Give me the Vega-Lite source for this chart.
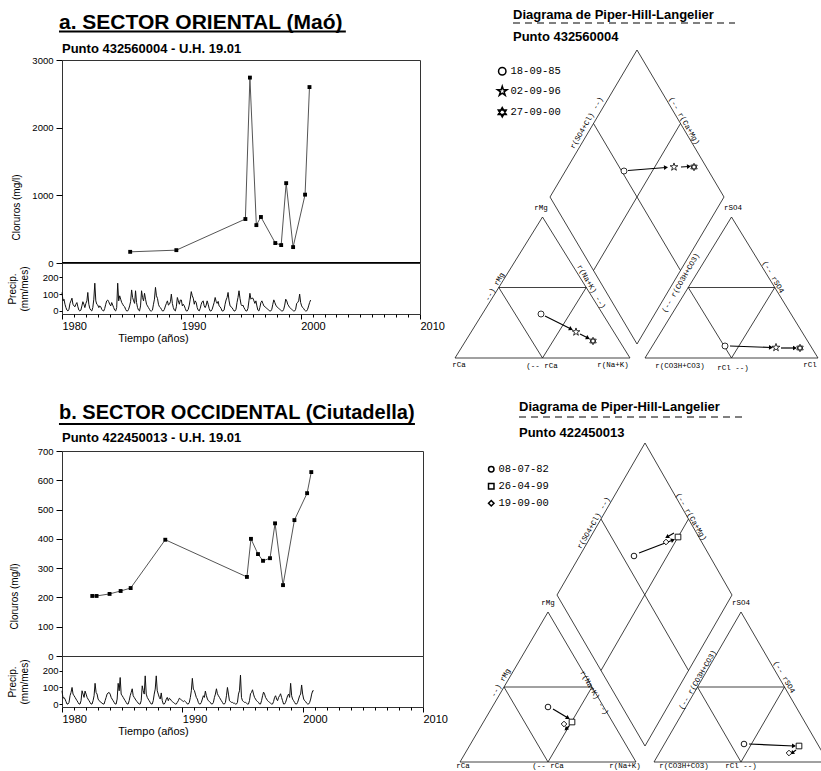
{
  "$schema": "https://vega.github.io/schema/vega-lite/v6.json",
  "background": "white",
  "padding": {"left": 6, "top": 8, "right": 0, "bottom": 0},
  "spacing": 25,
  "resolve": {"scale": {"shape": "independent"}, "legend": {"shape": "independent"}},
  "config": {
    "view": {"stroke": "#333", "strokeWidth": 1},
    "font": "Liberation Sans",
    "axis": {"labelFont": "Liberation Sans", "titleFont": "Liberation Sans", "labelFontSize": 9.5, "titleFontSize": 10, "titleFontWeight": "normal", "grid": false, "labelColor": "#000", "titleColor": "#000", "tickColor": "#000", "domainColor": "#000"},
    "text": {"font": "Liberation Sans", "color": "#000"}
  },
  "datasets": {
    "clA": [
      {"d": "1985-09-18", "v": 165}, {"d": "1989-08-01", "v": 190}, {"d": "1995-05-15", "v": 650}, {"d": "1995-10-01", "v": 2740},
      {"d": "1996-04-15", "v": 560}, {"d": "1996-09-02", "v": 680}, {"d": "1997-11-15", "v": 295}, {"d": "1998-05-15", "v": 265},
      {"d": "1998-10-15", "v": 1180}, {"d": "1999-05-15", "v": 235}, {"d": "2000-05-15", "v": 1010}, {"d": "2000-09-27", "v": 2600}
    ],
    "clB": [
      {"d": "1982-07-08", "v": 205}, {"d": "1982-11-15", "v": 205}, {"d": "1983-12-15", "v": 212}, {"d": "1984-11-15", "v": 222},
      {"d": "1985-09-15", "v": 232}, {"d": "1988-08-01", "v": 397}, {"d": "1995-05-15", "v": 270}, {"d": "1995-09-15", "v": 400},
      {"d": "1996-04-15", "v": 348}, {"d": "1996-09-15", "v": 325}, {"d": "1997-04-15", "v": 334}, {"d": "1997-09-15", "v": 453},
      {"d": "1998-05-15", "v": 242}, {"d": "1999-04-26", "v": 464}, {"d": "2000-05-15", "v": 556}, {"d": "2000-09-19", "v": 628}
    ],
    "prA": [
      {"d":"1980-01","p":110},{"d":"1980-02","p":60},{"d":"1980-03","p":70},{"d":"1980-04","p":40},{"d":"1980-05","p":20},{"d":"1980-06","p":5},{"d":"1980-07","p":0},{"d":"1980-08","p":10},{"d":"1980-09","p":45},{"d":"1980-10","p":60},{"d":"1980-11","p":76},{"d":"1980-12","p":40},
      {"d":"1981-01","p":30},{"d":"1981-02","p":25},{"d":"1981-03","p":40},{"d":"1981-04","p":50},{"d":"1981-05","p":25},{"d":"1981-06","p":5},{"d":"1981-07","p":0},{"d":"1981-08","p":5},{"d":"1981-09","p":30},{"d":"1981-10","p":55},{"d":"1981-11","p":40},{"d":"1981-12","p":20},
      {"d":"1982-01","p":45},{"d":"1982-02","p":60},{"d":"1982-03","p":110},{"d":"1982-04","p":40},{"d":"1982-05","p":15},{"d":"1982-06","p":5},{"d":"1982-07","p":0},{"d":"1982-08","p":20},{"d":"1982-09","p":70},{"d":"1982-10","p":165},{"d":"1982-11","p":60},{"d":"1982-12","p":40},
      {"d":"1983-01","p":35},{"d":"1983-02","p":20},{"d":"1983-03","p":30},{"d":"1983-04","p":25},{"d":"1983-05","p":10},{"d":"1983-06","p":2},{"d":"1983-07","p":0},{"d":"1983-08","p":15},{"d":"1983-09","p":40},{"d":"1983-10","p":60},{"d":"1983-11","p":65},{"d":"1983-12","p":55},
      {"d":"1984-01","p":40},{"d":"1984-02","p":30},{"d":"1984-03","p":50},{"d":"1984-04","p":35},{"d":"1984-05","p":20},{"d":"1984-06","p":5},{"d":"1984-07","p":0},{"d":"1984-08","p":20},{"d":"1984-09","p":165},{"d":"1984-10","p":60},{"d":"1984-11","p":90},{"d":"1984-12","p":70},
      {"d":"1985-01","p":50},{"d":"1985-02","p":40},{"d":"1985-03","p":30},{"d":"1985-04","p":25},{"d":"1985-05","p":10},{"d":"1985-06","p":0},{"d":"1985-07","p":0},{"d":"1985-08","p":10},{"d":"1985-09","p":30},{"d":"1985-10","p":55},{"d":"1985-11","p":125},{"d":"1985-12","p":80},
      {"d":"1986-01","p":60},{"d":"1986-02","p":45},{"d":"1986-03","p":120},{"d":"1986-04","p":50},{"d":"1986-05","p":20},{"d":"1986-06","p":5},{"d":"1986-07","p":0},{"d":"1986-08","p":30},{"d":"1986-09","p":120},{"d":"1986-10","p":80},{"d":"1986-11","p":60},{"d":"1986-12","p":105},
      {"d":"1987-01","p":70},{"d":"1987-02","p":40},{"d":"1987-03","p":30},{"d":"1987-04","p":20},{"d":"1987-05","p":10},{"d":"1987-06","p":0},{"d":"1987-07","p":0},{"d":"1987-08","p":5},{"d":"1987-09","p":40},{"d":"1987-10","p":70},{"d":"1987-11","p":140},{"d":"1987-12","p":90},
      {"d":"1988-01","p":75},{"d":"1988-02","p":40},{"d":"1988-03","p":25},{"d":"1988-04","p":20},{"d":"1988-05","p":10},{"d":"1988-06","p":0},{"d":"1988-07","p":0},{"d":"1988-08","p":10},{"d":"1988-09","p":30},{"d":"1988-10","p":45},{"d":"1988-11","p":60},{"d":"1988-12","p":35},
      {"d":"1989-01","p":40},{"d":"1989-02","p":55},{"d":"1989-03","p":100},{"d":"1989-04","p":45},{"d":"1989-05","p":20},{"d":"1989-06","p":5},{"d":"1989-07","p":0},{"d":"1989-08","p":25},{"d":"1989-09","p":80},{"d":"1989-10","p":60},{"d":"1989-11","p":40},{"d":"1989-12","p":65},
      {"d":"1990-01","p":65},{"d":"1990-02","p":30},{"d":"1990-03","p":40},{"d":"1990-04","p":30},{"d":"1990-05","p":15},{"d":"1990-06","p":0},{"d":"1990-07","p":0},{"d":"1990-08","p":10},{"d":"1990-09","p":35},{"d":"1990-10","p":70},{"d":"1990-11","p":115},{"d":"1990-12","p":90},
      {"d":"1991-01","p":76},{"d":"1991-02","p":40},{"d":"1991-03","p":60},{"d":"1991-04","p":50},{"d":"1991-05","p":20},{"d":"1991-06","p":5},{"d":"1991-07","p":0},{"d":"1991-08","p":15},{"d":"1991-09","p":40},{"d":"1991-10","p":55},{"d":"1991-11","p":60},{"d":"1991-12","p":30},
      {"d":"1992-01","p":20},{"d":"1992-02","p":35},{"d":"1992-03","p":60},{"d":"1992-04","p":40},{"d":"1992-05","p":15},{"d":"1992-06","p":0},{"d":"1992-07","p":0},{"d":"1992-08","p":10},{"d":"1992-09","p":30},{"d":"1992-10","p":50},{"d":"1992-11","p":80},{"d":"1992-12","p":57},
      {"d":"1993-01","p":45},{"d":"1993-02","p":57},{"d":"1993-03","p":30},{"d":"1993-04","p":25},{"d":"1993-05","p":15},{"d":"1993-06","p":0},{"d":"1993-07","p":0},{"d":"1993-08","p":5},{"d":"1993-09","p":40},{"d":"1993-10","p":65},{"d":"1993-11","p":80},{"d":"1993-12","p":110},
      {"d":"1994-01","p":60},{"d":"1994-02","p":30},{"d":"1994-03","p":25},{"d":"1994-04","p":20},{"d":"1994-05","p":10},{"d":"1994-06","p":0},{"d":"1994-07","p":0},{"d":"1994-08","p":10},{"d":"1994-09","p":50},{"d":"1994-10","p":80},{"d":"1994-11","p":120},{"d":"1994-12","p":75},
      {"d":"1995-01","p":40},{"d":"1995-02","p":30},{"d":"1995-03","p":35},{"d":"1995-04","p":20},{"d":"1995-05","p":10},{"d":"1995-06","p":0},{"d":"1995-07","p":0},{"d":"1995-08","p":15},{"d":"1995-09","p":60},{"d":"1995-10","p":105},{"d":"1995-11","p":70},{"d":"1995-12","p":76},
      {"d":"1996-01","p":76},{"d":"1996-02","p":60},{"d":"1996-03","p":45},{"d":"1996-04","p":60},{"d":"1996-05","p":30},{"d":"1996-06","p":5},{"d":"1996-07","p":0},{"d":"1996-08","p":20},{"d":"1996-09","p":50},{"d":"1996-10","p":60},{"d":"1996-11","p":45},{"d":"1996-12","p":30},
      {"d":"1997-01","p":25},{"d":"1997-02","p":20},{"d":"1997-03","p":15},{"d":"1997-04","p":10},{"d":"1997-05","p":5},{"d":"1997-06","p":0},{"d":"1997-07","p":0},{"d":"1997-08","p":10},{"d":"1997-09","p":40},{"d":"1997-10","p":66},{"d":"1997-11","p":50},{"d":"1997-12","p":35},
      {"d":"1998-01","p":25},{"d":"1998-02","p":20},{"d":"1998-03","p":15},{"d":"1998-04","p":10},{"d":"1998-05","p":5},{"d":"1998-06","p":0},{"d":"1998-07","p":0},{"d":"1998-08","p":10},{"d":"1998-09","p":35},{"d":"1998-10","p":70},{"d":"1998-11","p":60},{"d":"1998-12","p":40},
      {"d":"1999-01","p":30},{"d":"1999-02","p":20},{"d":"1999-03","p":15},{"d":"1999-04","p":10},{"d":"1999-05","p":5},{"d":"1999-06","p":0},{"d":"1999-07","p":0},{"d":"1999-08","p":10},{"d":"1999-09","p":45},{"d":"1999-10","p":50},{"d":"1999-11","p":60},{"d":"1999-12","p":100},
      {"d":"2000-01","p":50},{"d":"2000-02","p":30},{"d":"2000-03","p":20},{"d":"2000-04","p":15},{"d":"2000-05","p":5},{"d":"2000-06","p":0},{"d":"2000-07","p":0},{"d":"2000-08","p":10},{"d":"2000-09","p":30},{"d":"2000-10","p":50},{"d":"2000-11","p":65}
    ],
    "prB": [
      {"d":"1980-01","p":80},{"d":"1980-02","p":35},{"d":"1980-03","p":40},{"d":"1980-04","p":30},{"d":"1980-05","p":15},{"d":"1980-06","p":0},{"d":"1980-07","p":0},{"d":"1980-08","p":10},{"d":"1980-09","p":50},{"d":"1980-10","p":70},{"d":"1980-11","p":100},{"d":"1980-12","p":60},
      {"d":"1981-01","p":50},{"d":"1981-02","p":40},{"d":"1981-03","p":30},{"d":"1981-04","p":20},{"d":"1981-05","p":10},{"d":"1981-06","p":0},{"d":"1981-07","p":0},{"d":"1981-08","p":20},{"d":"1981-09","p":80},{"d":"1981-10","p":60},{"d":"1981-11","p":40},{"d":"1981-12","p":78},
      {"d":"1982-01","p":60},{"d":"1982-02","p":40},{"d":"1982-03","p":30},{"d":"1982-04","p":20},{"d":"1982-05","p":10},{"d":"1982-06","p":0},{"d":"1982-07","p":0},{"d":"1982-08","p":20},{"d":"1982-09","p":50},{"d":"1982-10","p":125},{"d":"1982-11","p":70},{"d":"1982-12","p":60},
      {"d":"1983-01","p":30},{"d":"1983-02","p":20},{"d":"1983-03","p":15},{"d":"1983-04","p":10},{"d":"1983-05","p":5},{"d":"1983-06","p":0},{"d":"1983-07","p":0},{"d":"1983-08","p":20},{"d":"1983-09","p":40},{"d":"1983-10","p":60},{"d":"1983-11","p":67},{"d":"1983-12","p":70},
      {"d":"1984-01","p":60},{"d":"1984-02","p":40},{"d":"1984-03","p":30},{"d":"1984-04","p":20},{"d":"1984-05","p":10},{"d":"1984-06","p":0},{"d":"1984-07","p":0},{"d":"1984-08","p":30},{"d":"1984-09","p":125},{"d":"1984-10","p":80},{"d":"1984-11","p":160},{"d":"1984-12","p":60},
      {"d":"1985-01","p":50},{"d":"1985-02","p":40},{"d":"1985-03","p":30},{"d":"1985-04","p":20},{"d":"1985-05","p":10},{"d":"1985-06","p":0},{"d":"1985-07","p":0},{"d":"1985-08","p":20},{"d":"1985-09","p":50},{"d":"1985-10","p":70},{"d":"1985-11","p":92},{"d":"1985-12","p":50},
      {"d":"1986-01","p":40},{"d":"1986-02","p":30},{"d":"1986-03","p":20},{"d":"1986-04","p":15},{"d":"1986-05","p":5},{"d":"1986-06","p":0},{"d":"1986-07","p":0},{"d":"1986-08","p":20},{"d":"1986-09","p":110},{"d":"1986-10","p":80},{"d":"1986-11","p":60},{"d":"1986-12","p":170},
      {"d":"1987-01","p":60},{"d":"1987-02","p":40},{"d":"1987-03","p":30},{"d":"1987-04","p":20},{"d":"1987-05","p":10},{"d":"1987-06","p":0},{"d":"1987-07","p":0},{"d":"1987-08","p":20},{"d":"1987-09","p":60},{"d":"1987-10","p":90},{"d":"1987-11","p":170},{"d":"1987-12","p":80},
      {"d":"1988-01","p":60},{"d":"1988-02","p":40},{"d":"1988-03","p":30},{"d":"1988-04","p":67},{"d":"1988-05","p":20},{"d":"1988-06","p":0},{"d":"1988-07","p":0},{"d":"1988-08","p":10},{"d":"1988-09","p":30},{"d":"1988-10","p":40},{"d":"1988-11","p":20},{"d":"1988-12","p":35},
      {"d":"1989-01","p":30},{"d":"1989-02","p":20},{"d":"1989-03","p":15},{"d":"1989-04","p":10},{"d":"1989-05","p":5},{"d":"1989-06","p":0},{"d":"1989-07","p":0},{"d":"1989-08","p":10},{"d":"1989-09","p":20},{"d":"1989-10","p":35},{"d":"1989-11","p":30},{"d":"1989-12","p":25},
      {"d":"1990-01","p":20},{"d":"1990-02","p":15},{"d":"1990-03","p":20},{"d":"1990-04","p":15},{"d":"1990-05","p":10},{"d":"1990-06","p":0},{"d":"1990-07","p":0},{"d":"1990-08","p":10},{"d":"1990-09","p":40},{"d":"1990-10","p":80},{"d":"1990-11","p":155},{"d":"1990-12","p":90},
      {"d":"1991-01","p":82},{"d":"1991-02","p":60},{"d":"1991-03","p":40},{"d":"1991-04","p":30},{"d":"1991-05","p":10},{"d":"1991-06","p":0},{"d":"1991-07","p":0},{"d":"1991-08","p":10},{"d":"1991-09","p":30},{"d":"1991-10","p":50},{"d":"1991-11","p":40},{"d":"1991-12","p":78},
      {"d":"1992-01","p":50},{"d":"1992-02","p":30},{"d":"1992-03","p":20},{"d":"1992-04","p":15},{"d":"1992-05","p":10},{"d":"1992-06","p":0},{"d":"1992-07","p":0},{"d":"1992-08","p":10},{"d":"1992-09","p":40},{"d":"1992-10","p":60},{"d":"1992-11","p":92},{"d":"1992-12","p":62},
      {"d":"1993-01","p":50},{"d":"1993-02","p":40},{"d":"1993-03","p":30},{"d":"1993-04","p":20},{"d":"1993-05","p":10},{"d":"1993-06","p":0},{"d":"1993-07","p":0},{"d":"1993-08","p":10},{"d":"1993-09","p":50},{"d":"1993-10","p":100},{"d":"1993-11","p":60},{"d":"1993-12","p":20},
      {"d":"1994-01","p":15},{"d":"1994-02","p":10},{"d":"1994-03","p":10},{"d":"1994-04","p":5},{"d":"1994-05","p":5},{"d":"1994-06","p":0},{"d":"1994-07","p":0},{"d":"1994-08","p":10},{"d":"1994-09","p":60},{"d":"1994-10","p":80},{"d":"1994-11","p":175},{"d":"1994-12","p":40},
      {"d":"1995-01","p":20},{"d":"1995-02","p":15},{"d":"1995-03","p":10},{"d":"1995-04","p":10},{"d":"1995-05","p":5},{"d":"1995-06","p":0},{"d":"1995-07","p":0},{"d":"1995-08","p":20},{"d":"1995-09","p":62},{"d":"1995-10","p":70},{"d":"1995-11","p":86},{"d":"1995-12","p":60},
      {"d":"1996-01","p":40},{"d":"1996-02","p":30},{"d":"1996-03","p":20},{"d":"1996-04","p":15},{"d":"1996-05","p":10},{"d":"1996-06","p":0},{"d":"1996-07","p":0},{"d":"1996-08","p":20},{"d":"1996-09","p":50},{"d":"1996-10","p":72},{"d":"1996-11","p":60},{"d":"1996-12","p":40},
      {"d":"1997-01","p":30},{"d":"1997-02","p":20},{"d":"1997-03","p":15},{"d":"1997-04","p":10},{"d":"1997-05","p":5},{"d":"1997-06","p":0},{"d":"1997-07","p":0},{"d":"1997-08","p":15},{"d":"1997-09","p":40},{"d":"1997-10","p":50},{"d":"1997-11","p":30},{"d":"1997-12","p":20},
      {"d":"1998-01","p":40},{"d":"1998-02","p":50},{"d":"1998-03","p":62},{"d":"1998-04","p":40},{"d":"1998-05","p":20},{"d":"1998-06","p":0},{"d":"1998-07","p":0},{"d":"1998-08","p":10},{"d":"1998-09","p":30},{"d":"1998-10","p":50},{"d":"1998-11","p":60},{"d":"1998-12","p":40},
      {"d":"1999-01","p":125},{"d":"1999-02","p":50},{"d":"1999-03","p":30},{"d":"1999-04","p":20},{"d":"1999-05","p":10},{"d":"1999-06","p":0},{"d":"1999-07","p":0},{"d":"1999-08","p":10},{"d":"1999-09","p":30},{"d":"1999-10","p":50},{"d":"1999-11","p":60},{"d":"1999-12","p":115},
      {"d":"2000-01","p":60},{"d":"2000-02","p":30},{"d":"2000-03","p":20},{"d":"2000-04","p":15},{"d":"2000-05","p":5},{"d":"2000-06","p":0},{"d":"2000-07","p":0},{"d":"2000-08","p":10},{"d":"2000-09","p":30},{"d":"2000-10","p":60},{"d":"2000-11","p":80},{"d":"2000-12","p":80}
    ],
    "segA": [
      {"x":7,"y":17,"x2":182,"y2":17},{"x":7,"y":17,"x2":94.5,"y2":158},{"x":182,"y":17,"x2":94.5,"y2":158},
      {"x":50.75,"y":87.5,"x2":138.25,"y2":87.5},{"x":50.75,"y":87.5,"x2":94.5,"y2":17},{"x":138.25,"y":87.5,"x2":94.5,"y2":17},
      {"x":197,"y":17,"x2":370,"y2":17},{"x":197,"y":17,"x2":283.5,"y2":158},{"x":370,"y":17,"x2":283.5,"y2":158},
      {"x":240.25,"y":87.5,"x2":326.75,"y2":87.5},{"x":240.25,"y":87.5,"x2":283.5,"y2":17},{"x":326.75,"y":87.5,"x2":283.5,"y2":17},
      {"x":189,"y":325,"x2":102,"y2":178},{"x":102,"y":178,"x2":189,"y2":31},{"x":189,"y":31,"x2":276,"y2":178},{"x":276,"y":178,"x2":189,"y2":325},
      {"x":145.5,"y":251.5,"x2":232.5,"y2":104.5},{"x":232.5,"y":251.5,"x2":145.5,"y2":104.5}
    ],
    "segB": [
      {"x":9,"y":8,"x2":185,"y2":8},{"x":9,"y":8,"x2":97,"y2":158},{"x":185,"y":8,"x2":97,"y2":158},
      {"x":53,"y":83,"x2":141,"y2":83},{"x":53,"y":83,"x2":97,"y2":8},{"x":141,"y":83,"x2":97,"y2":8},
      {"x":203,"y":8,"x2":377,"y2":8},{"x":203,"y":8,"x2":290,"y2":158},{"x":377,"y":8,"x2":290,"y2":158},
      {"x":246.5,"y":83,"x2":333.5,"y2":83},{"x":246.5,"y":83,"x2":290,"y2":8},{"x":333.5,"y":83,"x2":290,"y2":8},
      {"x":194,"y":327,"x2":106,"y2":175},{"x":106,"y":175,"x2":194,"y2":24},{"x":194,"y":24,"x2":281,"y2":175},{"x":281,"y":175,"x2":194,"y2":327},
      {"x":150,"y":251,"x2":237.5,"y2":99.5},{"x":237.5,"y":251,"x2":150,"y2":99.5}
    ],
    "dA": [{"x":65,"x2":287,"y":352}],
    "dB": [{"x":68,"x2":295,"y":353}],
    "tA": [{"t":"Diagrama de Piper-Hill-Langelier","x":65,"y":360},{"t":"Punto 432560004","x":65,"y":338}],
    "tB": [{"t":"Diagrama de Piper-Hill-Langelier","x":68,"y":363},{"t":"Punto 422450013","x":68,"y":337}],
    "ptA": [
      {"f":"18-09-85","x":93,"y":61},{"f":"02-09-96","x":128,"y":43},{"f":"27-09-00","x":145,"y":34},
      {"f":"18-09-85","x":176,"y":204},{"f":"02-09-96","x":226,"y":208},{"f":"27-09-00","x":246,"y":208},
      {"f":"18-09-85","x":277,"y":29},{"f":"02-09-96","x":328,"y":27.5},{"f":"27-09-00","x":352,"y":27}
    ],
    "ptB": [
      {"f":"08-07-82","x":183,"y":214},{"f":"26-04-99","x":227,"y":233},{"f":"19-09-00","x":215,"y":228},
      {"f":"08-07-82","x":97,"y":63},{"f":"26-04-99","x":121,"y":48},{"f":"19-09-00","x":113,"y":46},
      {"f":"08-07-82","x":293,"y":26},{"f":"26-04-99","x":348,"y":24},{"f":"19-09-00","x":338,"y":17}
    ],
    "arA": [
      {"x":97,"y":59,"x2":123,"y2":46},{"x":132,"y":41,"x2":140,"y2":37},
      {"x":180,"y":204.5,"x2":218,"y2":207.5},{"x":233,"y":208,"x2":241,"y2":208.5},
      {"x":282,"y":29,"x2":323,"y2":27.5},{"x":333,"y":27,"x2":347,"y2":27}
    ],
    "arB": [
      {"x":188,"y":217,"x2":222,"y2":230},{"x":223,"y":237,"x2":216,"y2":233},
      {"x":102,"y":61,"x2":117,"y2":52},{"x":118,"y":44,"x2":115,"y2":41},
      {"x":298,"y":26,"x2":343,"y2":24},{"x":345,"y":20,"x2":341,"y2":17}
    ],
    "lA0": [
      {"t":"rMg","x":93,"y":167},{"t":"rSO4","x":285,"y":167},{"t":"rCa","x":11,"y":10},{"t":"(--  rCa","x":94,"y":9},
      {"t":"r(Na+K)","x":165,"y":10},{"t":"r(CO3H+CO3)","x":232,"y":9},{"t":"rCl  --)","x":285,"y":7},{"t":"rCl","x":362,"y":10}
    ],
    "lAm": [
      {"t":"r(SO4+Cl)  --)","x":139,"y":252},{"t":"--)  rMg","x":47,"y":88},{"t":"(--  r(CO3H+CO3)","x":233,"y":92}
    ],
    "lAp": [
      {"t":"(--  r(Ca+Mg)","x":236,"y":254},{"t":"r(Na+K)  --)","x":143,"y":88},{"t":"(--  rSO4","x":325,"y":98}
    ],
    "lB0": [
      {"t":"rMg","x":97,"y":167},{"t":"rSO4","x":290,"y":167},{"t":"rCa","x":12,"y":4.5},{"t":"(--  rCa","x":97,"y":4.5},
      {"t":"r(Na+K)","x":174,"y":4.5},{"t":"r(CO3H+CO3)","x":233,"y":4.5},{"t":"rCl  --)","x":290,"y":4.5}
    ],
    "lBm": [
      {"t":"r(SO4+Cl)  --)","x":143,"y":247},{"t":"--)  rMg","x":50,"y":87},{"t":"(--  r(CO3H+CO3)","x":247,"y":90}
    ],
    "lBp": [
      {"t":"(--  r(Ca+Mg)","x":240,"y":253},{"t":"r(Na+K)  --)","x":143,"y":77},{"t":"(--  rSO4","x":333,"y":93}
    ]
  },
  "vconcat": [
    {
      "spacing": 3,
      "resolve": {"scale": {"shape": "independent"}},
      "hconcat": [
        {
          "spacing": 0,
          "bounds": "flush",
          "vconcat": [
            {
              "width": 358, "height": 52,
              "view": {"stroke": null},
              "data": {"values": [{}]},
              "layer": [
                {"mark": {"type": "text", "text": "a. SECTOR ORIENTAL (Maó)", "align": "left", "baseline": "middle", "fontSize": 21, "fontWeight": "bold"},
                 "encoding": {"x": {"datum": {"year": 1979, "month": 10, "date": 1}, "type": "temporal", "scale": {"domain": [{"year": 1980, "month": 1, "date": 1}, {"year": 2010, "month": 1, "date": 1}]}, "axis": null},
                              "y": {"datum": 37, "type": "quantitative", "scale": {"domain": [0, 52], "nice": false, "zero": false}, "axis": null}}},
                {"mark": {"type": "rule", "color": "#000", "strokeWidth": 2},
                 "encoding": {"x": {"datum": {"year": 1979, "month": 10, "date": 1}, "type": "temporal"}, "x2": {"datum": {"year": 2003, "month": 10, "date": 15}}, "y": {"datum": 28.5, "type": "quantitative"}}},
                {"mark": {"type": "text", "text": "Punto 432560004 - U.H. 19.01", "align": "left", "baseline": "middle", "fontSize": 13, "fontWeight": "bold"},
                 "encoding": {"x": {"datum": {"year": 1980, "month": 1, "date": 1}, "type": "temporal"}, "y": {"datum": 11, "type": "quantitative"}}}
              ]
            },
            {
              "width": 358, "height": 203,
              "layer": [
                {"data": {"name": "clA"}, "mark": {"type": "line", "color": "#555", "strokeWidth": 1},
                 "encoding": {
                   "x": {"field": "d", "type": "temporal", "scale": {"domain": [{"year": 1980, "month": 1, "date": 1}, {"year": 2010, "month": 1, "date": 1}]}, "axis": null},
                   "y": {"field": "v", "type": "quantitative", "scale": {"domain": [0, 3000], "nice": false}, "axis": {"values": [0, 1000, 2000, 3000], "format": "d", "title": "Cloruros (mg/l)", "titleY": 147, "tickSize": 6, "labelPadding": 3, "titlePadding": 10, "domain": false}}}},
                {"data": {"name": "clA"}, "mark": {"type": "square", "color": "#000", "size": 15, "opacity": 1},
                 "encoding": {
                   "x": {"field": "d", "type": "temporal"},
                   "y": {"field": "v", "type": "quantitative"}}},
                {"data": {"values": [{}]}, "mark": {"type": "rule", "color": "#000", "strokeWidth": 2},
                 "encoding": {"y": {"datum": 0, "type": "quantitative"}}}
              ]
            },
            {
              "width": 358, "height": 51,
              "data": {"name": "prA"},
              "mark": {"type": "line", "color": "#111", "strokeWidth": 1},
              "encoding": {
                "x": {"field": "d", "type": "temporal", "scale": {"domain": [{"year": 1980, "month": 1, "date": 1}, {"year": 2010, "month": 1, "date": 1}]},
                      "axis": {"title": "Tiempo (años)", "titleFontSize": 11, "titleX": 91, "titlePadding": 1, "tickCount": {"interval": "year", "step": 1}, "labelExpr": "year(datum.value) % 10 === 0 ? timeFormat(datum.value, '%Y') : ''", "labelAlign": "left", "labelOverlap": false, "labelFlush": false, "labelBound": false, "labelFontSize": 11, "labelPadding": 1, "tickSize": {"condition": {"test": "year(datum.value) % 10 === 0", "value": 5}, "value": 3}, "domain": false}},
                "y": {"field": "p", "type": "quantitative", "scale": {"domain": [-18, 285], "nice": false, "zero": false}, "axis": {"values": [0, 100, 200], "title": ["Precip.", "(mm/mes)"], "tickSize": 3, "labelPadding": 1, "titlePadding": 13, "domain": false}}
              }
            }
          ]
        },
        {
          "width": 371, "height": 367,
          "view": {"stroke": null},
          "layer": [
            {"data": {"name": "segA"}, "mark": {"type": "rule", "color": "#111", "strokeWidth": 0.8},
             "encoding": {"x": {"field": "x", "type": "quantitative", "scale": {"domain": [0, 371], "nice": false, "zero": false}, "axis": null}, "y": {"field": "y", "type": "quantitative", "scale": {"domain": [0, 367], "nice": false, "zero": false}, "axis": null}, "x2": {"field": "x2"}, "y2": {"field": "y2"}}},
            {"data": {"name": "dA"}, "mark": {"type": "rule", "color": "#000", "strokeWidth": 1, "strokeDash": [7, 5]},
             "encoding": {"x": {"field": "x", "type": "quantitative", "scale": {"domain": [0, 371], "nice": false, "zero": false}, "axis": null}, "y": {"field": "y", "type": "quantitative", "scale": {"domain": [0, 367], "nice": false, "zero": false}, "axis": null}, "x2": {"field": "x2"}}},
            {"data": {"name": "tA"}, "mark": {"type": "text", "align": "left", "baseline": "middle", "fontSize": 13, "fontWeight": "bold"},
             "encoding": {"x": {"field": "x", "type": "quantitative", "scale": {"domain": [0, 371], "nice": false, "zero": false}, "axis": null}, "y": {"field": "y", "type": "quantitative", "scale": {"domain": [0, 367], "nice": false, "zero": false}, "axis": null}, "text": {"field": "t"}}},
            {"data": {"name": "arA"}, "mark": {"type": "rule", "color": "#000", "strokeWidth": 1.2},
             "encoding": {"x": {"field": "x", "type": "quantitative", "scale": {"domain": [0, 371], "nice": false, "zero": false}, "axis": null}, "y": {"field": "y", "type": "quantitative", "scale": {"domain": [0, 367], "nice": false, "zero": false}, "axis": null}, "x2": {"field": "x2"}, "y2": {"field": "y2"}}},
            {"data": {"name": "arA"}, "transform": [{"calculate": "atan2(-(datum.y2 - datum.y), datum.x2 - datum.x) * 180 / PI", "as": "ang"}],
             "mark": {"type": "point", "shape": "triangle-right", "filled": true, "color": "#000", "size": 22, "opacity": 1},
             "encoding": {"x": {"field": "x2", "type": "quantitative", "scale": {"domain": [0, 371], "nice": false, "zero": false}, "axis": null}, "y": {"field": "y2", "type": "quantitative", "scale": {"domain": [0, 367], "nice": false, "zero": false}, "axis": null}, "angle": {"field": "ang", "type": "quantitative", "scale": null}}},
            {"data": {"name": "ptA"}, "mark": {"type": "point", "filled": true, "fill": "white", "stroke": "#000", "strokeWidth": 0.8, "size": 36, "opacity": 1},
             "encoding": {"x": {"field": "x", "type": "quantitative", "scale": {"domain": [0, 371], "nice": false, "zero": false}, "axis": null}, "y": {"field": "y", "type": "quantitative", "scale": {"domain": [0, 367], "nice": false, "zero": false}, "axis": null},
               "shape": {"field": "f", "type": "nominal", "scale": {"domain": ["18-09-85", "02-09-96", "27-09-00"], "range": ["circle", "M0,-1.35L0.303,-0.417L1.284,-0.417L0.49,0.159L0.794,1.092L0,0.516L-0.794,1.092L-0.49,0.159L-1.284,-0.417L-0.303,-0.417Z", "M0,-1.25L1.0825,0.625L-1.0825,0.625Z M0,1.25L-1.0825,-0.625L1.0825,-0.625Z"]},
               "legend": {"orient": "none", "legendX": 49, "legendY": 58, "padding": 0, "title": null, "labelFont": "Liberation Mono", "labelFontSize": 10.5, "labelColor": "#000", "symbolSize": 55, "rowPadding": 5, "labelOffset": 3,
                          "encode": {"symbols": {"update": {"stroke": {"value": "#000"}, "fill": {"value": "#fff"}, "fillOpacity": {"value": 1}, "strokeWidth": {"value": 0.6}, "opacity": {"value": 1}}}}}}}},
            {"data": {"name": "lA0"}, "mark": {"type": "text", "font": "Liberation Mono", "fontSize": 7.5, "color": "#000"},
             "encoding": {"x": {"field": "x", "type": "quantitative", "scale": {"domain": [0, 371], "nice": false, "zero": false}, "axis": null}, "y": {"field": "y", "type": "quantitative", "scale": {"domain": [0, 367], "nice": false, "zero": false}, "axis": null}, "text": {"field": "t"}}},
            {"data": {"name": "lAm"}, "mark": {"type": "text", "font": "Liberation Mono", "fontSize": 7.5, "color": "#000", "angle": 300},
             "encoding": {"x": {"field": "x", "type": "quantitative", "scale": {"domain": [0, 371], "nice": false, "zero": false}, "axis": null}, "y": {"field": "y", "type": "quantitative", "scale": {"domain": [0, 367], "nice": false, "zero": false}, "axis": null}, "text": {"field": "t"}}},
            {"data": {"name": "lAp"}, "mark": {"type": "text", "font": "Liberation Mono", "fontSize": 7.5, "color": "#000", "angle": 60},
             "encoding": {"x": {"field": "x", "type": "quantitative", "scale": {"domain": [0, 371], "nice": false, "zero": false}, "axis": null}, "y": {"field": "y", "type": "quantitative", "scale": {"domain": [0, 367], "nice": false, "zero": false}, "axis": null}, "text": {"field": "t"}}}
          ]
        }
      ]
    },
    {
      "spacing": 3,
      "resolve": {"scale": {"shape": "independent"}},
      "hconcat": [
        {
          "spacing": 0,
          "bounds": "flush",
          "vconcat": [
            {
              "width": 361, "height": 51,
              "view": {"stroke": null},
              "data": {"values": [{}]},
              "layer": [
                {"mark": {"type": "text", "text": "b. SECTOR OCCIDENTAL (Ciutadella)", "align": "left", "baseline": "middle", "fontSize": 20, "fontWeight": "bold"},
                 "encoding": {"x": {"datum": {"year": 1979, "month": 10, "date": 1}, "type": "temporal", "scale": {"domain": [{"year": 1980, "month": 1, "date": 1}, {"year": 2010, "month": 1, "date": 1}]}, "axis": null},
                              "y": {"datum": 38, "type": "quantitative", "scale": {"domain": [0, 51], "nice": false, "zero": false}, "axis": null}}},
                {"mark": {"type": "rule", "color": "#000", "strokeWidth": 2},
                 "encoding": {"x": {"datum": {"year": 1979, "month": 10, "date": 1}, "type": "temporal"}, "x2": {"datum": {"year": 2009, "month": 5, "date": 1}}, "y": {"datum": 27, "type": "quantitative"}}},
                {"mark": {"type": "text", "text": "Punto 422450013 - U.H. 19.01", "align": "left", "baseline": "middle", "fontSize": 13, "fontWeight": "bold"},
                 "encoding": {"x": {"datum": {"year": 1980, "month": 1, "date": 1}, "type": "temporal"}, "y": {"datum": 13, "type": "quantitative"}}}
              ]
            },
            {
              "width": 361, "height": 205,
              "data": {"name": "clB"},
              "encoding": {
                "x": {"field": "d", "type": "temporal", "scale": {"domain": [{"year": 1980, "month": 1, "date": 1}, {"year": 2010, "month": 1, "date": 1}]}, "axis": null},
                "y": {"field": "v", "type": "quantitative", "scale": {"domain": [0, 700], "nice": false}, "axis": {"values": [0, 100, 200, 300, 400, 500, 600, 700], "format": "d", "title": "Cloruros (mg/l)", "titleY": 145, "tickSize": 6, "labelPadding": 3, "titlePadding": 18, "domain": false}}
              },
              "layer": [
                {"mark": {"type": "line", "color": "#555", "strokeWidth": 1}},
                {"mark": {"type": "square", "color": "#000", "size": 15, "opacity": 1}}
              ]
            },
            {
              "width": 361, "height": 51,
              "data": {"name": "prB"},
              "mark": {"type": "line", "color": "#111", "strokeWidth": 1},
              "encoding": {
                "x": {"field": "d", "type": "temporal", "scale": {"domain": [{"year": 1980, "month": 1, "date": 1}, {"year": 2010, "month": 1, "date": 1}]},
                      "axis": {"title": "Tiempo (años)", "titleFontSize": 11, "titleX": 91, "titlePadding": 1, "tickCount": {"interval": "year", "step": 1}, "labelExpr": "year(datum.value) % 10 === 0 ? timeFormat(datum.value, '%Y') : ''", "labelAlign": "left", "labelOverlap": false, "labelFlush": false, "labelBound": false, "labelFontSize": 11, "labelPadding": 1, "tickSize": {"condition": {"test": "year(datum.value) % 10 === 0", "value": 5}, "value": 3}, "domain": false}},
                "y": {"field": "p", "type": "quantitative", "scale": {"domain": [-18, 290], "nice": false, "zero": false}, "axis": {"values": [0, 100, 200], "title": ["Precip.", "(mm/mes)"], "tickSize": 3, "labelPadding": 1, "titlePadding": 13, "domain": false}}
              }
            }
          ]
        },
        {
          "width": 371, "height": 370,
          "view": {"stroke": null},
          "layer": [
            {"data": {"name": "segB"}, "mark": {"type": "rule", "color": "#111", "strokeWidth": 0.8, "clip": true},
             "encoding": {"x": {"field": "x", "type": "quantitative", "scale": {"domain": [0, 371], "nice": false, "zero": false}, "axis": null}, "y": {"field": "y", "type": "quantitative", "scale": {"domain": [0, 370], "nice": false, "zero": false}, "axis": null}, "x2": {"field": "x2"}, "y2": {"field": "y2"}}},
            {"data": {"name": "dB"}, "mark": {"type": "rule", "color": "#000", "strokeWidth": 1, "strokeDash": [7, 5]},
             "encoding": {"x": {"field": "x", "type": "quantitative", "scale": {"domain": [0, 371], "nice": false, "zero": false}, "axis": null}, "y": {"field": "y", "type": "quantitative", "scale": {"domain": [0, 370], "nice": false, "zero": false}, "axis": null}, "x2": {"field": "x2"}}},
            {"data": {"name": "tB"}, "mark": {"type": "text", "align": "left", "baseline": "middle", "fontSize": 13, "fontWeight": "bold"},
             "encoding": {"x": {"field": "x", "type": "quantitative", "scale": {"domain": [0, 371], "nice": false, "zero": false}, "axis": null}, "y": {"field": "y", "type": "quantitative", "scale": {"domain": [0, 370], "nice": false, "zero": false}, "axis": null}, "text": {"field": "t"}}},
            {"data": {"name": "arB"}, "mark": {"type": "rule", "color": "#000", "strokeWidth": 1.2},
             "encoding": {"x": {"field": "x", "type": "quantitative", "scale": {"domain": [0, 371], "nice": false, "zero": false}, "axis": null}, "y": {"field": "y", "type": "quantitative", "scale": {"domain": [0, 370], "nice": false, "zero": false}, "axis": null}, "x2": {"field": "x2"}, "y2": {"field": "y2"}}},
            {"data": {"name": "arB"}, "transform": [{"calculate": "atan2(-(datum.y2 - datum.y), datum.x2 - datum.x) * 180 / PI", "as": "ang"}],
             "mark": {"type": "point", "shape": "triangle-right", "filled": true, "color": "#000", "size": 22, "opacity": 1},
             "encoding": {"x": {"field": "x2", "type": "quantitative", "scale": {"domain": [0, 371], "nice": false, "zero": false}, "axis": null}, "y": {"field": "y2", "type": "quantitative", "scale": {"domain": [0, 370], "nice": false, "zero": false}, "axis": null}, "angle": {"field": "ang", "type": "quantitative", "scale": null}}},
            {"data": {"name": "ptB"}, "mark": {"type": "point", "filled": true, "fill": "white", "stroke": "#000", "strokeWidth": 0.9, "size": 32, "opacity": 1},
             "encoding": {"x": {"field": "x", "type": "quantitative", "scale": {"domain": [0, 371], "nice": false, "zero": false}, "axis": null}, "y": {"field": "y", "type": "quantitative", "scale": {"domain": [0, 370], "nice": false, "zero": false}, "axis": null},
               "shape": {"field": "f", "type": "nominal", "scale": {"domain": ["08-07-82", "26-04-99", "19-09-00"], "range": ["circle", "square", "diamond"]},
               "legend": {"orient": "none", "legendX": 35, "legendY": 64, "padding": 0, "title": null, "labelFont": "Liberation Mono", "labelFontSize": 10.5, "labelColor": "#000", "symbolSize": 30, "rowPadding": 5, "labelOffset": 2,
                          "encode": {"symbols": {"update": {"stroke": {"value": "#000"}, "fill": {"value": "#fff"}, "strokeWidth": {"value": 0.8}, "opacity": {"value": 1}}}}}}}},
            {"data": {"name": "lB0"}, "mark": {"type": "text", "font": "Liberation Mono", "fontSize": 7.5, "color": "#000"},
             "encoding": {"x": {"field": "x", "type": "quantitative", "scale": {"domain": [0, 371], "nice": false, "zero": false}, "axis": null}, "y": {"field": "y", "type": "quantitative", "scale": {"domain": [0, 370], "nice": false, "zero": false}, "axis": null}, "text": {"field": "t"}}},
            {"data": {"name": "lBm"}, "mark": {"type": "text", "font": "Liberation Mono", "fontSize": 7.5, "color": "#000", "angle": 300},
             "encoding": {"x": {"field": "x", "type": "quantitative", "scale": {"domain": [0, 371], "nice": false, "zero": false}, "axis": null}, "y": {"field": "y", "type": "quantitative", "scale": {"domain": [0, 370], "nice": false, "zero": false}, "axis": null}, "text": {"field": "t"}}},
            {"data": {"name": "lBp"}, "mark": {"type": "text", "font": "Liberation Mono", "fontSize": 7.5, "color": "#000", "angle": 60},
             "encoding": {"x": {"field": "x", "type": "quantitative", "scale": {"domain": [0, 371], "nice": false, "zero": false}, "axis": null}, "y": {"field": "y", "type": "quantitative", "scale": {"domain": [0, 370], "nice": false, "zero": false}, "axis": null}, "text": {"field": "t"}}}
          ]
        }
      ]
    }
  ]
}
